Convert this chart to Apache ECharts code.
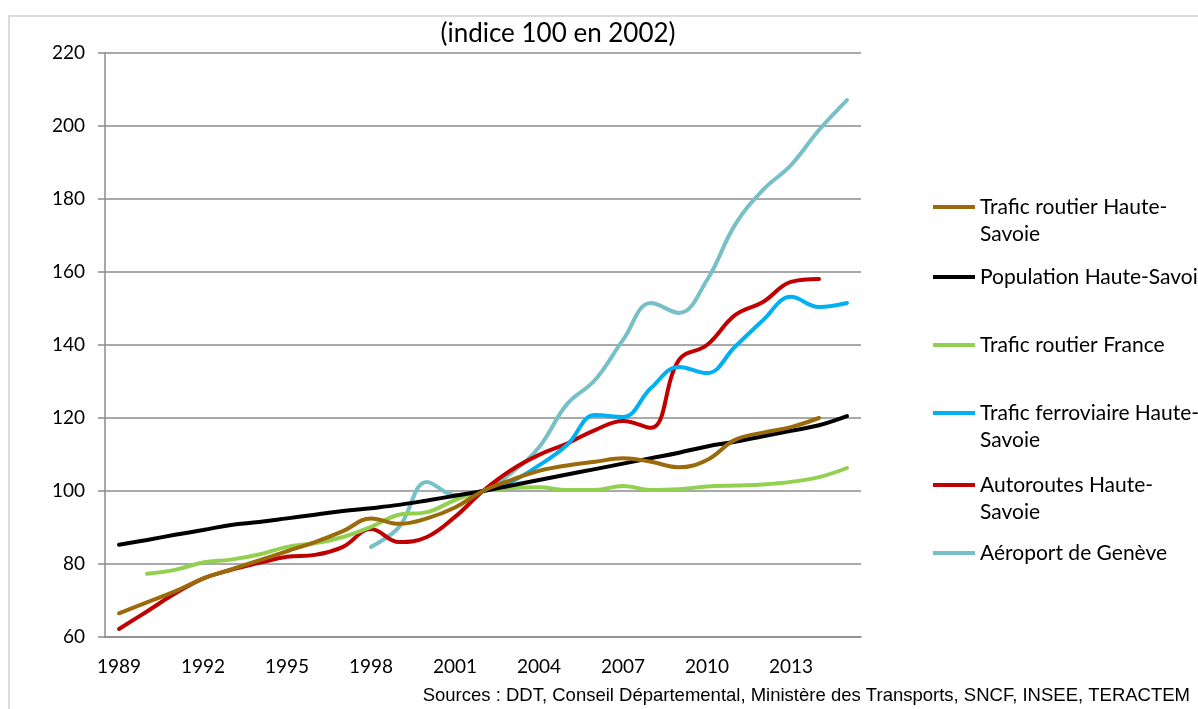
<!DOCTYPE html>
<html>
<head>
<meta charset="utf-8">
<script src="https://cdn.jsdelivr.net/npm/echarts@6/dist/echarts.min.js"></script>
<style>
  html, body { margin: 0; padding: 0; background: #fff; }
  #main { width: 1198px; height: 709px; }
</style>
</head>
<body>
<div id="main"></div>
<script>
const years = [];
for (let y = 1989; y <= 2015; y++) years.push(String(y));

const yTicks = [60, 80, 100, 120, 140, 160, 180, 200, 220];

// indices (100 = 2002)
const traficRoutierHS = [66.5, 69.5, 72.5, 76, 78.5, 81, 83.5, 86, 89, 92.5, 91, 92.5, 95.5, 100, 103, 105.5, 107, 108, 109, 108, 106.5, 108.5, 114, 116, 117.5, 120, null];
const populationHS = [85.3, 86.6, 88, 89.3, 90.7, 91.5, 92.5, 93.5, 94.5, 95.3, 96.2, 97.4, 98.7, 100, 101.5, 103, 104.5, 106, 107.5, 109, 110.5, 112.2, 113.5, 115, 116.5, 118, 120.5];
const traficRoutierFrance = [null, 77.3, 78.4, 80.4, 81.2, 82.6, 84.7, 85.7, 87.4, 90.2, 93.5, 94.2, 97.5, 100, 100.8, 101, 100.3, 100.3, 101.4, 100.3, 100.5, 101.2, 101.5, 101.8, 102.5, 103.8, 106.3];
const ferroviaireHS = [null, null, null, null, null, null, null, null, null, null, null, null, null, 100, 102.5, 107, 112.6, 120.8, 120.3, 128.2, 134, 132.3, 139.5, 146.8, 153.2, 150.4, 151.5];
const autoroutesHS = [62.2, 67, 71.9, 76, 78.4, 80.3, 82, 82.5, 84.7, 89.6, 86, 87.4, 92.9, 100, 105.7, 109.9, 113, 116.7, 119.2, 117.3, 135.9, 140, 148.2, 151.8, 157.3, 158.1, null];
const aeroportGeneve = [null, null, null, null, null, null, null, null, null, 84.7, 90.1, 102.5, 98.9, 100, 104.9, 112, 123.8, 130.4, 141.4, 151.5, 148.8, 157.8, 172.9, 182.5, 189.3, 198.9, 207.1];

const seriesNames = [
  "Trafic routier Haute-Savoie",
  "Population Haute-Savoie",
  "Trafic routier France",
  "Trafic ferroviaire Haute-Savoie",
  "Autoroutes Haute-Savoie",
  "Aéroport de Genève",
];
const seriesValues = [traficRoutierHS, populationHS, traficRoutierFrance, ferroviaireHS, autoroutesHS, aeroportGeneve];
// une ligne vide devant pour que la 1re ligne soit alignée sur le trait
const legendLabels = [
  "\nTrafic routier Haute-\nSavoie",
  "Population Haute-Savoie",
  "Trafic routier France",
  "\nTrafic ferroviaire Haute-\nSavoie",
  "\nAutoroutes Haute-\nSavoie",
  "Aéroport de Genève",
];
const colors = ["#9b6a0a", "#000000", "#92d050", "#00b0f0", "#c00000", "#78c0c8"];

const font = "Lato";
const legendCenters = [207, 277, 345, 413, 485, 553];

const chart = echarts.init(document.getElementById("main"));

const legends = seriesNames.map((name, i) => {
  const twoLines = legendLabels[i].indexOf("\n") >= 0;
  return {
    data: [name],
    orient: "vertical",
    left: 933,
    top: legendCenters[i] - (twoLines ? 40.5 : 13.5),
    padding: 0,
    icon: "rect",
    itemWidth: 42,
    itemHeight: 4,
    selectedMode: false,
    formatter: () => legendLabels[i],
    textStyle: {
      fontFamily: font,
      fontSize: 21,
      lineHeight: 27,
      color: "#000",
    },
  };
});

const option = {
  animation: false,
  backgroundColor: "#fff",
  color: colors,
  title: {
    text: "(indice 100 en 2002)",
    left: 553,
    top: 16,
    textAlign: "center",
    textStyle: { fontFamily: font, fontSize: 26, fontWeight: "normal", color: "#000" },
  },
  legend: legends,
  grid: { left: 105, right: 337, top: 53, bottom: 72 },
  xAxis: {
    type: "category",
    data: years,
    boundaryGap: true,
    axisLine: { lineStyle: { color: "#8c8c8c", width: 1.5 } },
    axisTick: { interval: 0, length: 7, lineStyle: { color: "#8c8c8c", width: 1.5 } },
    axisLabel: { interval: 2, margin: 20, fontFamily: font, fontSize: 19, color: "#000" },
    splitLine: { show: false },
  },
  yAxis: {
    type: "value",
    min: yTicks[0],
    max: yTicks[yTicks.length - 1],
    interval: 20,
    axisLine: { show: true, lineStyle: { color: "#8c8c8c", width: 1.5 } },
    axisTick: { show: true, length: 7, lineStyle: { color: "#8c8c8c", width: 1.5 } },
    axisLabel: { margin: 20, fontFamily: font, fontSize: 19, color: "#000" },
    splitLine: { lineStyle: { color: "#8c8c8c", width: 1.5 } },
  },
  series: seriesNames.map((name, i) => ({
    name: name,
    type: "line",
    data: seriesValues[i],
    smooth: 0.4,
    symbol: "none",
    connectNulls: false,
    lineStyle: { width: 4, color: colors[i], cap: "round" },
    z: 10 - i,
  })),
  graphic: [
    {
      type: "rect",
      shape: { x: 9, y: 16, width: 1400, height: 900 },
      style: { fill: "none", stroke: "#dcdcdc", lineWidth: 2 },
      silent: true,
    },
    {
      type: "text",
      right: 8,
      top: 686,
      style: {
        text: "Sources : DDT, Conseil Départemental, Ministère des Transports, SNCF, INSEE, TERACTEM",
        fontFamily: "Liberation Sans",
        fontSize: 18.5,
        fill: "#000",
      },
    },
  ],
};

chart.setOption(option);
</script>
</body>
</html>
